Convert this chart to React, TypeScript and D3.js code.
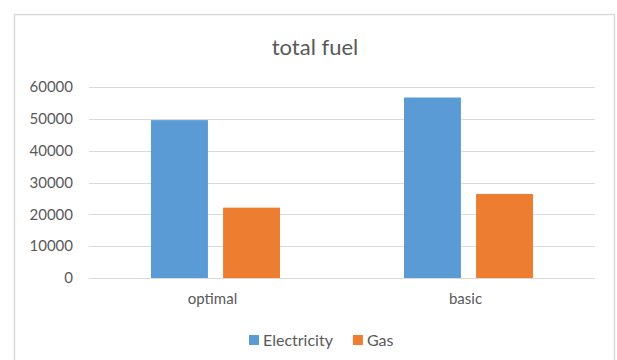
import React, { useEffect, useRef } from 'react';
import * as d3 from 'd3';

const categories = ['optimal', 'basic'];
const seriesNames = ['Electricity', 'Gas'];
const electricity = [49600, 56700];
const gas = [22100, 26400];
const yTicks = [0, 10000, 20000, 30000, 40000, 50000, 60000];
const chartTitle = 'total fuel';

const colors = ['#5B9BD5', '#ED7D31'];

const App: React.FC = () => {
  const ref = useRef<HTMLDivElement>(null);

  useEffect(() => {
    if (!ref.current) return;
    const width = 617;
    const height = 360;
    const font = 'Lato, "Open Sans", sans-serif';

    const svg = d3.select(ref.current)
      .html('')
      .append('svg')
      .attr('width', width)
      .attr('height', height)
      .style('display', 'block');

    svg.append('rect')
      .attr('width', width)
      .attr('height', height)
      .attr('fill', '#fff');

    // chart frame
    svg.append('rect')
      .attr('x', 14.5)
      .attr('y', 14.5)
      .attr('width', 600)
      .attr('height', height)
      .attr('fill', '#fff')
      .attr('stroke', '#d9d9d9')
      .attr('stroke-width', 1.5);

    svg.append('text')
      .attr('x', 315)
      .attr('y', 55)
      .attr('text-anchor', 'middle')
      .attr('font-family', font)
      .attr('font-size', '22px')
      .attr('fill', '#595959')
      .text(chartTitle);

    const plot = { left: 89, right: 595, top: 87, bottom: 278 };

    const y = d3.scaleLinear().domain([0, 60000]).range([plot.bottom, plot.top]);
    const x0 = d3.scaleBand<string>().domain(categories).range([plot.left, plot.right]);
    const x1 = d3.scaleBand<string>()
      .domain(seriesNames)
      .range([0, x0.bandwidth()])
      .paddingInner(0.21)
      .paddingOuter(0.86);

    // gridlines
    svg.append('g')
      .selectAll('line')
      .data(yTicks)
      .enter()
      .append('line')
      .attr('x1', plot.left)
      .attr('x2', plot.right)
      .attr('y1', d => Math.round(y(d)) + 0.5)
      .attr('y2', d => Math.round(y(d)) + 0.5)
      .attr('stroke', '#d9d9d9')
      .attr('stroke-width', 1.2);

    // y tick labels
    svg.append('g')
      .selectAll('text')
      .data(yTicks)
      .enter()
      .append('text')
      .attr('x', 73)
      .attr('y', d => y(d))
      .attr('dy', '0.35em')
      .attr('text-anchor', 'end')
      .attr('font-family', font)
      .attr('font-size', '15px')
      .attr('fill', '#595959')
      .text(d => String(d));

    const values = [electricity, gas];
    const groups = svg.append('g')
      .selectAll('g')
      .data(categories)
      .enter()
      .append('g')
      .attr('transform', d => `translate(${x0(d)},0)`);

    groups.selectAll('rect')
      .data((d, i) => seriesNames.map((s, j) => ({ s, v: values[j][i], c: colors[j] })))
      .enter()
      .append('rect')
      .attr('x', d => x1(d.s) as number)
      .attr('width', x1.bandwidth())
      .attr('y', d => y(d.v))
      .attr('height', d => y(0) - y(d.v))
      .attr('fill', d => d.c);

    // category labels
    svg.append('g')
      .selectAll('text')
      .data(categories)
      .enter()
      .append('text')
      .attr('x', d => (x0(d) as number) + x0.bandwidth() / 2 - 3)
      .attr('y', 304)
      .attr('text-anchor', 'middle')
      .attr('font-family', font)
      .attr('font-size', '15px')
      .attr('fill', '#595959')
      .text(d => d);

    // legend
    const legend = svg.append('g').attr('transform', 'translate(249,340)');
    let offset = 0;
    seriesNames.forEach((name, i) => {
      const item = legend.append('g').attr('transform', `translate(${offset},0)`);
      item.append('rect')
        .attr('x', 0)
        .attr('y', -5)
        .attr('width', 10)
        .attr('height', 10)
        .attr('fill', colors[i]);
      const t = item.append('text')
        .attr('x', 14)
        .attr('y', 0)
        .attr('dy', '0.35em')
        .attr('font-family', font)
        .attr('font-size', '16px')
        .attr('fill', '#595959')
        .text(name);
      const w = (t.node() as SVGTextElement).getComputedTextLength();
      offset += 14 + w + 20;
    });
  }, []);

  return <div ref={ref} style={{ position: 'absolute', left: 0, top: 0 }}></div>;
};

export default App;
